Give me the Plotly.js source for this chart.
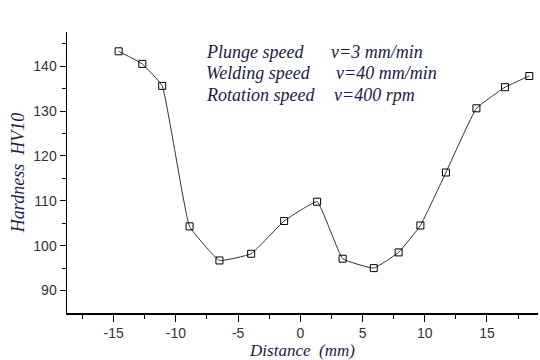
<!DOCTYPE html>
<html><head><meta charset="utf-8">
<script src="https://cdn.plot.ly/plotly-3.0.1.min.js"></script>
<style>html,body{margin:0;padding:0;background:#fff}#chart{width:540px;height:360px}</style>
</head><body><div id="chart"></div>
<script>
const distance = [-14.6, -12.7, -11.1, -8.9, -6.5, -3.95, -1.3, 1.35, 3.4, 5.9, 7.9, 9.65, 11.7, 14.15, 16.45, 18.4];
const hardness = [143.3, 140.5, 135.6, 104.3, 96.7, 98.2, 105.5, 109.8, 97.1, 95.0, 98.5, 104.5, 116.3, 130.6, 135.3, 137.8];
const paramNames = ["Plunge speed", "Welding speed", "Rotation speed"];
const paramValues = ["v=3 mm/min", "v=40 mm/min", "v=400 rpm"];

const serif = "Liberation Serif, Times New Roman, serif";
const textColor = "#1c1c44";
const annotations = [];
const nameY = [52, 73.5, 95];
const valX = [329, 334, 332];
paramNames.forEach((n, i) => {
  annotations.push({xref:'paper', yref:'paper', x:(204-67)/471, y:1-(nameY[i]-32)/281.3, xanchor:'left', yanchor:'middle', showarrow:false,
    text:'<i>'+n+'</i>', font:{family:serif, size:18, color:textColor}});
  annotations.push({xref:'paper', yref:'paper', x:(valX[i]-67)/471, y:1-(nameY[i]-32)/281.3, xanchor:'left', yanchor:'middle', showarrow:false,
    text:'<i>'+paramValues[i]+'</i>', font:{family:serif, size:18, color:textColor}});
});

const trace = {
  x: distance, y: hardness, type:'scatter', mode:'lines+markers',
  line:{color:'#333', width:1, shape:'spline', smoothing:0.3},
  marker:{symbol:'square-open', size:7, color:'#000', line:{width:1, color:'#000'}}
};
const layout = {
  width:540, height:360,
  margin:{l:67, r:2, t:32, b:46.7},
  paper_bgcolor:'#fff', plot_bgcolor:'#fff',
  showlegend:false,
  xaxis:{range:[-18.75, 19.1], tickvals:[-15,-10,-5,0,5,10,15], ticktext:['-15','-10','-5','0','5','10','15'],
    ticks:'outside', ticklen:7, tickwidth:1, tickcolor:'#000', showgrid:false, zeroline:false,
    showline:true, linecolor:'#000', linewidth:1.5,
    minor:{tickvals:[-17.5,-12.5,-7.5,-2.5,2.5,7.5,12.5,17.5], ticks:'outside', ticklen:4, tickcolor:'#000', showgrid:false},
    tickfont:{family:'Liberation Sans, Arial, sans-serif', size:14, color:'#333'},
    title:{text:'<i>Distance  (mm)</i>', font:{family:serif, size:17, color:textColor}, standoff:10}},
  yaxis:{range:[85, 147.6], tickvals:[90,100,110,120,130,140],
    ticks:'outside', ticklen:6, tickwidth:1, tickcolor:'#000', showgrid:false, zeroline:false,
    showline:true, linecolor:'#000', linewidth:1.5,
    minor:{tickvals:[95,105,115,125,135,145], ticks:'outside', ticklen:4, tickcolor:'#000', showgrid:false},
    tickfont:{family:'Liberation Sans, Arial, sans-serif', size:14, color:'#333'},
    title:{text:'<i>Hardness  HV10</i>', font:{family:serif, size:18, color:textColor}, standoff:4}},
  annotations: annotations
};
Plotly.newPlot('chart', [trace], layout, {staticPlot:true, displayModeBar:false});
</script></body></html>
